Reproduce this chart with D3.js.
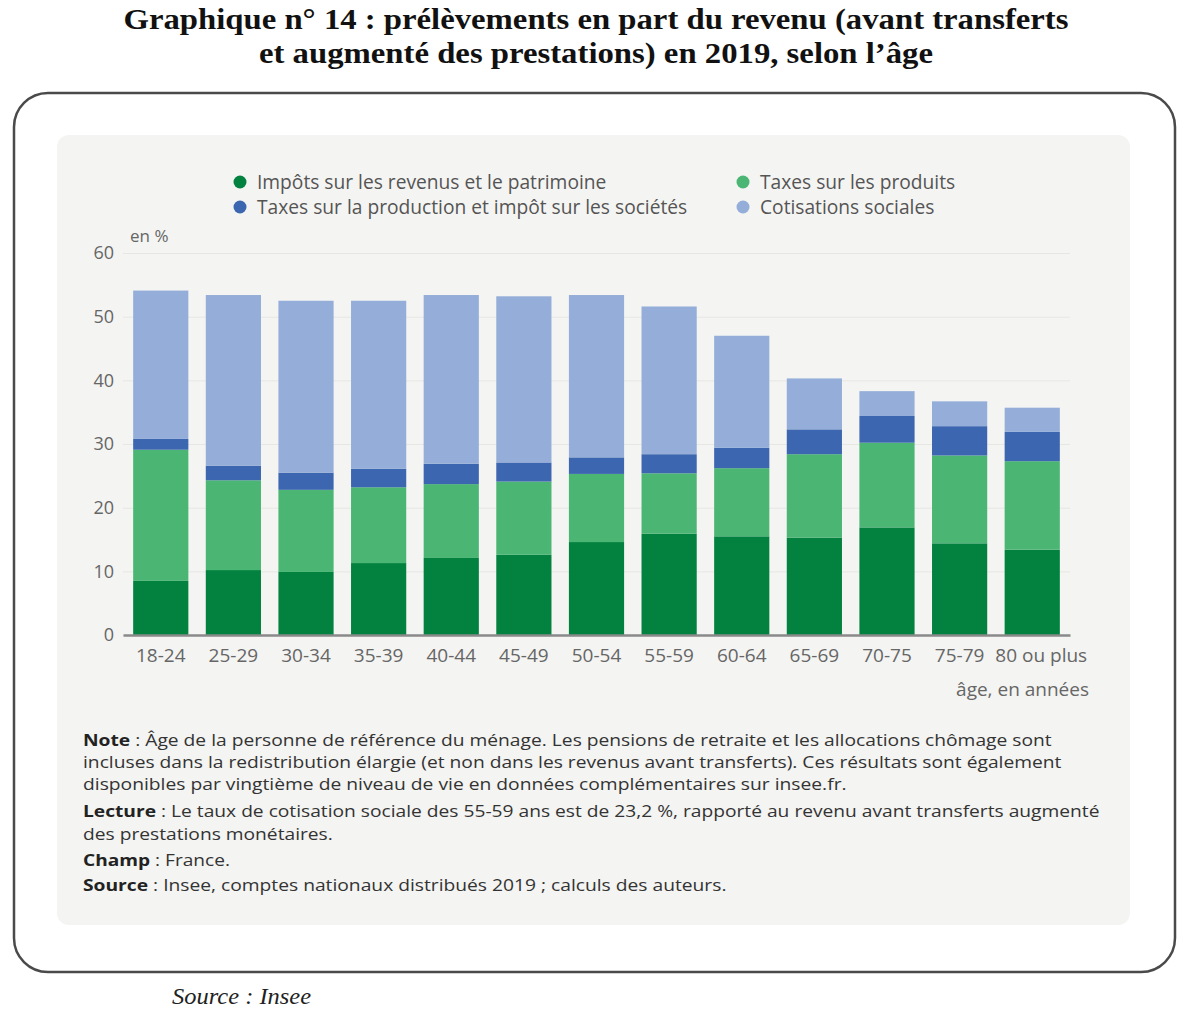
<!DOCTYPE html>
<html>
<head>
<meta charset="utf-8">
<script src="https://cdn.jsdelivr.net/npm/d3@7"></script>
<style>
  body { margin: 0; background: #fff; }
  svg text { font-family: "Open Sans", sans-serif; }
</style>
</head>
<body>
<div id="chart"></div>
<script>
// data (en %)
const ages = ["18-24","25-29","30-34","35-39","40-44","45-49","50-54","55-59","60-64","65-69","70-75","75-79","80 ou plus"]
const impots     = [8.5, 10.2, 9.9, 11.3, 12.1, 12.6, 14.6, 15.9, 15.5, 15.3, 16.9, 14.4, 13.4]
const produits   = [20.6, 14.1, 12.9, 11.9, 11.6, 11.5, 10.7, 9.5, 10.7, 13.1, 13.3, 13.8, 13.9]
const production = [1.7, 2.3, 2.7, 2.9, 3.2, 3.0, 2.6, 3.0, 3.2, 3.9, 4.2, 4.6, 4.6]
const cotisations= [23.3, 26.8, 27.0, 26.4, 26.5, 26.1, 25.5, 23.2, 17.6, 8.0, 3.9, 3.9, 3.8]
const yTicks = [0,10,20,30,40,50,60]

const seriesNames = ["Impôts sur les revenus et le patrimoine","Taxes sur les produits",
  "Taxes sur la production et impôt sur les sociétés","Cotisations sociales"]
const keys = ["impots","produits","production","cotisations"]
const colors = ["#03823f","#4bb574","#3d66b0","#94aed9"]

const titleLines = ["Graphique n° 14 : prélèvements en part du revenu (avant transferts",
  "et augmenté des prestations) en 2019, selon l’âge"]

// w = width the line takes in the reference
const notes = [
  {b:"Note", t:" : Âge de la personne de référence du ménage. Les pensions de retraite et les allocations chômage sont", y:746, w:969},
  {b:"", t:"incluses dans la redistribution élargie (et non dans les revenus avant transferts). Ces résultats sont également", y:768, w:979},
  {b:"", t:"disponibles par vingtième de niveau de vie en données complémentaires sur insee.fr.", y:790, w:764},
  {b:"Lecture", t:" : Le taux de cotisation sociale des 55-59 ans est de 23,2 %, rapporté au revenu avant transferts augmenté", y:817, w:1017},
  {b:"", t:"des prestations monétaires.", y:840, w:250},
  {b:"Champ", t:" : France.", y:866, w:147},
  {b:"Source", t:" : Insee, comptes nationaux distribués 2019 ; calculs des auteurs.", y:891, w:644}
]

const W = 1200, H = 1023
const svg = d3.select("#chart").append("svg").attr("width", W).attr("height", H)

// title
const titleW = [945, 674]
svg.selectAll(".title").data(titleLines).join("text")
  .attr("x", 596).attr("y", (d,i)=> 29 + i*34)
  .attr("text-anchor","middle")
  .attr("textLength",(d,i)=>titleW[i]).attr("lengthAdjust","spacingAndGlyphs")
  .style("font-family","'Liberation Serif', 'Times New Roman', serif")
  .style("font-weight","bold").style("font-size","30px").attr("fill","#111")
  .text(d=>d)

// frames
svg.append("rect").attr("x",14).attr("y",93).attr("width",1161).attr("height",879)
  .attr("rx",34).attr("fill","#fff").attr("stroke","#4a4a4a").attr("stroke-width",2.5)
svg.append("rect").attr("x",57).attr("y",135).attr("width",1073).attr("height",790)
  .attr("rx",12).attr("fill","#f4f4f2")

// scales
const x = d3.scaleBand().domain(ages).range([123,1070]).paddingInner(0.24).paddingOuter(0.14)
const y = d3.scaleLinear().domain([0,60]).range([635,253])

// gridlines + y labels
const yAxis = d3.axisLeft(y).tickValues(yTicks).tickSize(-(1070-123)).tickPadding(9)
const gy = svg.append("g").attr("transform","translate(123,0)").call(yAxis)
gy.select(".domain").remove()
gy.selectAll(".tick line").attr("stroke","#e6e6e3").attr("stroke-width",1)
gy.selectAll(".tick text").attr("fill","#666").style("font-size","18px").style("font-family","'Open Sans'")

svg.append("text").attr("x",130).attr("y",242).attr("fill","#666")
  .style("font-size","17px").text("en %")

// stacked bars
const table = ages.map((a,i)=>({age:a, impots:impots[i], produits:produits[i], production:production[i], cotisations:cotisations[i]}))
const stack = d3.stack().keys(keys)(table)

svg.append("g").selectAll("g").data(stack).join("g")
  .attr("fill",(d,i)=>colors[i])
  .selectAll("rect").data(d=>d).join("rect")
  .attr("x",d=>x(d.data.age))
  .attr("width",x.bandwidth())
  .attr("y",d=>y(d[1]))
  .attr("height",d=>y(d[0])-y(d[1]))

// x axis
const xAxis = d3.axisBottom(x).tickSize(0).tickPadding(14)
const gx = svg.append("g").attr("transform","translate(0,635)").call(xAxis)
gx.select(".domain").attr("stroke","#8a8a8a").attr("stroke-width",2.5)
gx.selectAll(".tick text").attr("fill","#666").style("font-size","19px").style("font-family","'Open Sans'")
  .attr("dx",d=> d==="80 ou plus" ? 9 : 0)

svg.append("text").attr("x",1089).attr("y",696).attr("text-anchor","end")
  .attr("fill","#666").style("font-size","19px").text("âge, en années")

// legend
const legPos = [[240,182],[743,182],[240,207],[743,207]]
const leg = svg.append("g").selectAll("g").data(seriesNames).join("g")
  .attr("transform",(d,i)=>`translate(${legPos[i][0]},${legPos[i][1]})`)
leg.append("circle").attr("r",6.5).attr("fill",(d,i)=>colors[i])
leg.append("text").attr("x",17).attr("y",6.5).attr("fill","#555")
  .style("font-size","19.2px").text(d=>d)

// notes (slightly wide lettering in the reference -> stretch each line to its width)
const nt = svg.append("g").selectAll("text").data(notes).join("text")
  .attr("x",0).attr("y",0).attr("fill","#333").style("font-size","16.5px")
nt.append("tspan").style("font-weight","bold").attr("fill","#222").text(d=>d.b)
nt.append("tspan").text(d=>d.t)
nt.attr("transform", function(d){
  const sx = d.w / this.getComputedTextLength()
  return `translate(83,${d.y}) scale(${sx},1)`
})

// source
svg.append("text").attr("x",172).attr("y",1004)
  .attr("textLength",139).attr("lengthAdjust","spacingAndGlyphs")
  .style("font-family","'Liberation Serif', 'Times New Roman', serif")
  .style("font-style","italic").style("font-size","23px").attr("fill","#222")
  .text("Source : Insee")
</script>
</body>
</html>
